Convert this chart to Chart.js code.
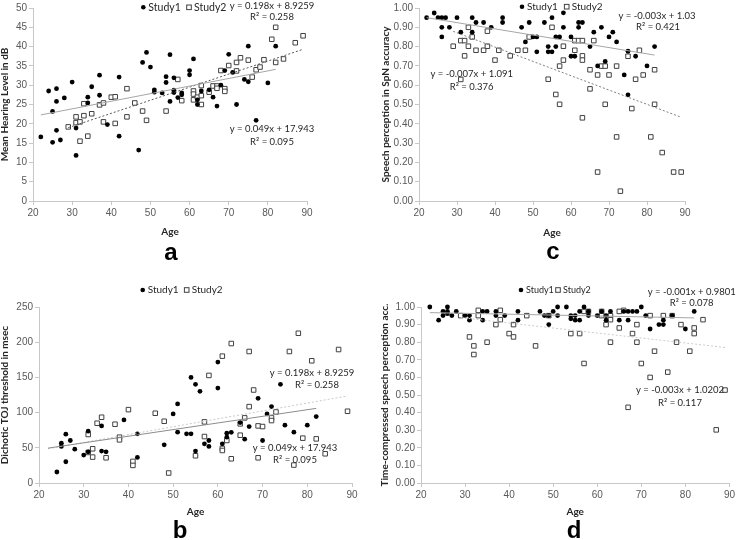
<!DOCTYPE html>
<html>
<head>
<meta charset="utf-8">
<script src="https://cdn.jsdelivr.net/npm/chart.js@4.4.1/dist/chart.umd.min.js"></script>
<style>
  body { margin: 0; background: #fff; }
  #wrap { position: relative; width: 737px; height: 540px; overflow: hidden; }
  canvas { position: absolute; }
</style>
</head>
<body>
<div id="wrap">
  <canvas id="chart-a" width="370" height="270" style="left:0;top:0"></canvas>
  <canvas id="chart-c" width="367" height="270" style="left:370px;top:0"></canvas>
  <canvas id="chart-b" width="370" height="270" style="left:0;top:270px"></canvas>
  <canvas id="chart-d" width="367" height="270" style="left:370px;top:270px"></canvas>
</div>
<script>
// ---- panel a : mean hearing level (dB) ----
const aAge1 = [22,24,25,25,26,26,26,27,28,30,31,31,34,34,35,37,37,39,42,42,47,48,49,50,51,51,53,54,54,55,55,56,56,56,57,58,58,60,60,61,62,62,63,65,66,67,68,69,70,71,72,74,75,75,77,80,82];
const aVal1 = [16.6,28.5,23.2,15.2,29.1,25.8,18.3,15.8,26.7,30.8,18.9,11.8,26.9,25.4,29.6,32.6,27.4,19.8,32.1,16.8,13.2,35.9,38.5,34.7,28.8,28.2,28.0,32.2,30.7,37.9,25.8,31.9,28.7,28.1,26.8,28.0,27.5,33.8,32.7,36.8,26.2,25.0,28.5,28.8,26.9,24.6,30.0,33.8,38.0,33.3,25.0,31.5,40.1,30.9,20.9,30.6,40.1];
const aAge2 = [29,31,31,32,32,33,33,34,35,37,38,38,40,41,41,44,44,46,48,49,54,57,58,61,61,61,62,63,63,63,65,66,67,67,68,69,69,70,72,72,73,75,76,77,78,79,81,82,82,84,87,89];
const aVal2 = [19.2,21.8,20.3,20.5,15.5,22.1,25.2,16.8,22.6,24.9,25.4,20.5,26.9,27.0,20.1,29.1,21.8,25.4,23.3,20.9,23.3,31.5,26.0,28.5,27.7,26.2,26.9,29.9,27.3,25.0,28.2,29.8,29.8,29.2,33.8,29.1,28.4,35.1,35.9,33.7,37.1,36.5,32.1,34.0,34.7,36.6,41.9,45.0,35.9,36.8,41.0,42.8];
const aFitAge1 = [22, 82], aFitVal1 = [22.3, 34.1];
const aFitAge2 = [29, 89], aFitVal2 = [19.0, 39.3];

// ---- panel c : speech perception in noise ----
const cAge1 = [22,24,25,26,27,26,26,28,30,31,34,34,35,37,39,42,42,47,48,49,50,51,51,53,54,54,55,55,56,57,56,58,58,60,60,61,62,63,62,65,66,67,68,69,70,71,72,74,75,75,77,80,82];
const cVal1 = [0.95,0.974,0.95,0.95,0.95,0.90,0.85,0.90,0.95,0.875,0.95,0.875,0.925,0.925,0.90,0.95,0.925,0.90,0.824,0.925,0.85,0.85,0.773,0.925,0.80,0.773,0.773,0.95,0.85,0.85,0.80,0.975,0.90,0.85,0.75,0.75,0.925,0.925,0.90,0.80,0.875,0.70,0.90,0.723,0.85,0.875,0.824,0.653,0.776,0.55,0.75,0.70,0.80];
const cAge2 = [29,31,32,31,32,33,33,34,35,37,38,38,40,41,44,46,48,49,54,55,56,57,57,58,58,61,62,63,61,63,63,63,65,65,66,67,67,68,69,69,70,72,72,73,75,76,77,78,79,81,82,82,84,87,89];
const cVal2 = [0.802,0.831,0.831,0.63,0.752,0.90,0.802,0.85,0.781,0.781,0.88,0.802,0.73,0.781,0.752,0.781,0.781,0.85,0.631,0.90,0.552,0.699,0.501,0.802,0.73,0.831,0.831,0.831,0.781,0.752,0.73,0.431,0.68,0.581,0.831,0.653,0.15,0.699,0.699,0.501,0.653,0.699,0.332,0.051,0.75,0.479,0.631,0.781,0.653,0.332,0.68,0.501,0.251,0.15,0.15];
const cFitAge1 = [22, 82], cFitVal1 = [0.950, 0.756];
const cFitAge2 = [29, 89], cFitVal2 = [0.879, 0.434];

// ---- panel b : dichotic TOJ threshold (msec) ----
const bAge1 = [24,25,25,26,26,27,28,30,31,31,34,34,35,39,42,42,48,50,51,51,53,54,54,55,55,56,57,58,58,60,60,61,62,62,63,65,66,67,69,70,71,72,74,75,77,80,82];
const bVal1 = [15.6,56.6,51.9,69.3,30.2,60.4,48.1,39.6,73.6,44.3,81.1,45.3,44.3,89.6,69.8,36.3,54.2,98.1,112.3,72.2,69.8,69.8,150.0,140.1,45.3,130.2,55.7,60.4,51.9,171.7,134.9,55.7,70.8,65.1,72.0,85.8,62.3,80.2,120.3,60.4,98.1,108.5,140.1,82.1,72.2,82.1,94.3];
const bAge2 = [31,31,32,32,33,34,35,37,38,38,40,41,41,46,48,49,55,57,57,58,61,61,61,62,63,63,65,65,66,67,67,68,69,70,69,72,72,73,76,77,78,79,81,82,84,87,89];
const bVal2 = [68.9,43.4,48.6,36.8,84.9,93.4,35.8,83.5,65.1,61.3,104.2,30.7,25.0,99.1,87.7,14.2,38.7,86.8,66.0,152.8,180.2,49.1,46.2,60.4,198.1,34.4,67.9,84.0,92.5,186.8,108.5,132.1,81.1,80.2,35.8,92.5,88.7,100.9,186.8,25.5,212.7,63.7,173.6,62.7,41.5,189.6,101.9];
const bFitAge1 = [22, 82], bFitVal1 = [49.5, 106.0];
const bFitAge2 = [22, 89], bFitVal2 = [48.6, 123.6];

// ---- panel d : time-compressed speech perception ----
const dAge1 = [22,24,25,25,26,26,26,27,28,30,31,31,34,35,34,37,37,39,42,42,47,48,49,49,50,51,51,53,54,54,55,55,56,56,57,58,58,60,61,62,62,63,65,66,67,67,68,69,70,71,72,74,75,75,77,80,82];
const dVal1 = [1.0,0.925,0.975,0.951,1.0,0.975,0.962,0.951,0.975,0.951,0.951,0.925,0.975,0.975,0.925,0.975,0.951,0.951,0.975,0.925,0.975,0.951,0.951,0.90,0.975,1.0,0.951,1.0,0.951,0.933,0.951,0.925,0.975,0.925,1.0,0.975,0.951,0.951,0.975,0.951,0.925,0.975,0.925,0.975,0.975,0.925,0.975,0.975,1.0,0.951,0.875,0.90,0.90,0.925,0.951,0.875,0.975];
const dAge2 = [29,31,32,32,33,33,35,37,38,38,40,41,41,44,46,49,54,56,57,57,58,61,61,62,63,63,63,65,65,66,67,68,69,69,70,72,72,73,75,76,77,78,79,81,82,82,84,87,89];
const dVal2 = [0.951,0.83,0.779,0.73,0.981,0.951,0.80,0.90,0.981,0.928,0.849,0.83,0.90,0.951,0.779,0.951,0.849,0.849,0.679,0.975,0.975,0.975,0.951,0.90,0.951,0.928,0.80,0.881,0.975,0.981,0.43,0.849,0.90,0.80,0.679,0.951,0.60,0.749,0.951,0.63,0.951,0.80,0.90,0.749,0.881,0.849,0.928,0.302,0.528];
const dFitAge1 = [22, 82], dFitVal1 = [0.968, 0.938];
const dFitAge2 = [29, 89], dFitVal2 = [0.940, 0.770];

const legendLabels = ['Study1', 'Study2'];

const pts = (xs, ys) => xs.map((x, i) => ({ x: x, y: ys[i] }));

// legend, regression notes and panel letter
const panelText = {
  id: 'panelText',
  afterDraw(chart, args, o) {
    const ctx = chart.ctx;
    const lg = o.legend;
    ctx.save();
    ctx.fillStyle = '#000';
    ctx.beginPath();
    ctx.arc(lg[0], lg[2], 2.3, 0, Math.PI * 2);
    ctx.fill();
    ctx.fillStyle = '#fff';
    ctx.strokeStyle = '#404040';
    ctx.lineWidth = 1;
    ctx.fillRect(lg[1] - 2.3, lg[2] - 2.3, 4.6, 4.6);
    ctx.strokeRect(lg[1] - 2.3, lg[2] - 2.3, 4.6, 4.6);
    ctx.fillStyle = '#262626';
    ctx.font = lg[3] + 'px Lato';
    ctx.textBaseline = 'middle';
    ctx.textAlign = 'left';
    ctx.fillText(legendLabels[0], lg[0] + 5, lg[2]);
    ctx.fillText(legendLabels[1], lg[1] + 5, lg[2]);

    ctx.font = '9.5px Lato';
    ctx.textAlign = 'center';
    o.notes.forEach(n => ctx.fillText(n[0], n[1], n[2]));

    ctx.fillStyle = '#000';
    ctx.font = 'bold 24px "Liberation Sans"';
    ctx.textBaseline = 'alphabetic';
    ctx.fillText(o.letter[0], o.letter[1], o.letter[2]);
    ctx.restore();
  }
};

function makePanel(id, p) {
  const canvas = document.getElementById(id);
  const W = canvas.width, H = canvas.height;
  const tickFont = { family: '"Liberation Sans", Arial, sans-serif', size: 10 };
  const titleFont = { family: 'Lato, sans-serif', size: 10, weight: 'bold', lineHeight: 1 };
  new Chart(canvas, {
    type: 'scatter',
    data: {
      datasets: [
        { label: 'fit1', type: 'line', data: pts(p.fit1[0], p.fit1[1]), borderColor: p.fit1Color, borderWidth: 1, pointRadius: 0, fill: false },
        { label: 'fit2', type: 'line', data: pts(p.fit2[0], p.fit2[1]), borderColor: p.fit2Color, borderWidth: 1, borderDash: [2, 2], pointRadius: 0, fill: false },
        { label: legendLabels[0], data: pts(p.s1[0], p.s1[1]), pointStyle: 'circle', pointRadius: 2.4, backgroundColor: '#000', borderWidth: 0, clip: false },
        { label: legendLabels[1], data: pts(p.s2[0], p.s2[1]), pointStyle: 'rect', pointRadius: 3.2, backgroundColor: '#fff', borderColor: '#404040', borderWidth: 1, clip: false }
      ]
    },
    options: {
      responsive: false,
      animation: false,
      layout: { padding: { top: p.box.top, right: W - p.box.right, left: 0, bottom: 0 } },
      plugins: {
        legend: { display: false },
        tooltip: { enabled: false },
        panelText: { legend: p.legend, notes: p.notes, letter: p.letter }
      },
      scales: {
        x: {
          type: 'linear', min: 20, max: 90,
          afterFit: s => { s.height = H - p.box.bottom; },
          ticks: { stepSize: 10, font: tickFont, color: '#595959', padding: 2, maxRotation: 0 },
          grid: { drawOnChartArea: false, drawTicks: true, tickLength: 4, color: '#c8c8c8' },
          border: { color: '#c8c8c8' },
          title: { display: true, text: 'Age', font: titleFont, color: '#262626', padding: { top: 0, bottom: p.xTitlePad } }
        },
        y: {
          type: 'linear', min: p.yMin, max: p.yMax,
          afterFit: s => { s.width = p.box.left; },
          ticks: { stepSize: p.yStep, font: tickFont, color: '#595959', padding: 2,
                   callback: v => v.toFixed(p.yDec) },
          grid: { drawOnChartArea: false, drawTicks: true, tickLength: 4, color: '#c8c8c8' },
          border: { color: '#c8c8c8' },
          title: { display: true, text: p.yTitle, font: titleFont, color: '#262626', padding: { top: p.yTitlePad, bottom: 0 } }
        }
      }
    },
    plugins: [panelText]
  });
}

makePanel('chart-a', {
  s1: [aAge1, aVal1], s2: [aAge2, aVal2],
  fit1: [aFitAge1, aFitVal1], fit2: [aFitAge2, aFitVal2],
  fit1Color: '#a6a6a6', fit2Color: '#595959',
  yMin: 0, yMax: 50, yStep: 5, yDec: 0,
  yTitle: 'Mean Hearing Level in dB',
  box: { left: 33, top: 6, right: 307, bottom: 201 },
  xTitlePad: 33, yTitlePad: 0,
  legend: [143.3, 189, 7.3, 10.5],
  notes: [['y = 0.198x + 8.9259', 272, 6], ['R\u00b2 = 0.258', 272, 17], ['y = 0.049x + 17.943', 272, 129], ['R\u00b2 = 0.095', 272, 142]],
  letter: ['a', 171, 260]
});

makePanel('chart-c', {
  s1: [cAge1, cVal1], s2: [cAge2, cVal2],
  fit1: [cFitAge1, cFitVal1], fit2: [cFitAge2, cFitVal2],
  fit1Color: '#a6a6a6', fit2Color: '#7f7f7f',
  yMin: 0, yMax: 1, yStep: 0.1, yDec: 2,
  yTitle: 'Speech perception in SpN accuracy',
  box: { left: 49, top: 6, right: 315, bottom: 201 },
  xTitlePad: 32, yTitlePad: 11,
  legend: [152, 196.7, 6.7, 10],
  notes: [['y = -0.003x + 1.03', 287, 15.7], ['R\u00b2 = 0.421', 288, 27.3], ['y = -0.007x + 1.091', 101.7, 74], ['R\u00b2 = 0.376', 101.7, 87]],
  letter: ['c', 183, 259]
});

makePanel('chart-b', {
  s1: [bAge1, bVal1], s2: [bAge2, bVal2],
  fit1: [bFitAge1, bFitVal1], fit2: [bFitAge2, bFitVal2],
  fit1Color: '#8c8c8c', fit2Color: '#c8c8c8',
  yMin: 0, yMax: 250, yStep: 50, yDec: 0,
  yTitle: 'Dichotic TOJ threshold in msec',
  box: { left: 39, top: 37, right: 352, bottom: 213 },
  xTitlePad: 23, yTitlePad: 0,
  legend: [142.7, 186.7, 20, 10],
  notes: [['y = 0.198x + 8.9259', 312, 103.3], ['R\u00b2 = 0.258', 317, 115], ['y = 0.049x + 17.943', 295, 178.3], ['R\u00b2 = 0.095', 295, 190]],
  letter: ['b', 180, 268]
});

makePanel('chart-d', {
  s1: [dAge1, dVal1], s2: [dAge2, dVal2],
  fit1: [dFitAge1, dFitVal1], fit2: [dFitAge2, dFitVal2],
  fit1Color: '#a6a6a6', fit2Color: '#cccccc',
  yMin: 0, yMax: 1, yStep: 0.1, yDec: 2,
  yTitle: 'Time-compressed speech perception acc.',
  box: { left: 51, top: 37, right: 362, bottom: 213 },
  xTitlePad: 23, yTitlePad: 10,
  legend: [151, 188, 20, 9],
  notes: [['y = -0.001x + 0.9801', 321.7, 21.7], ['R\u00b2 = 0.078', 321.7, 32.7], ['y = -0.003x + 1.0202', 310, 120], ['R\u00b2 = 0.117', 310, 132.7]],
  letter: ['d', 204, 268]
});
</script>
</body>
</html>
